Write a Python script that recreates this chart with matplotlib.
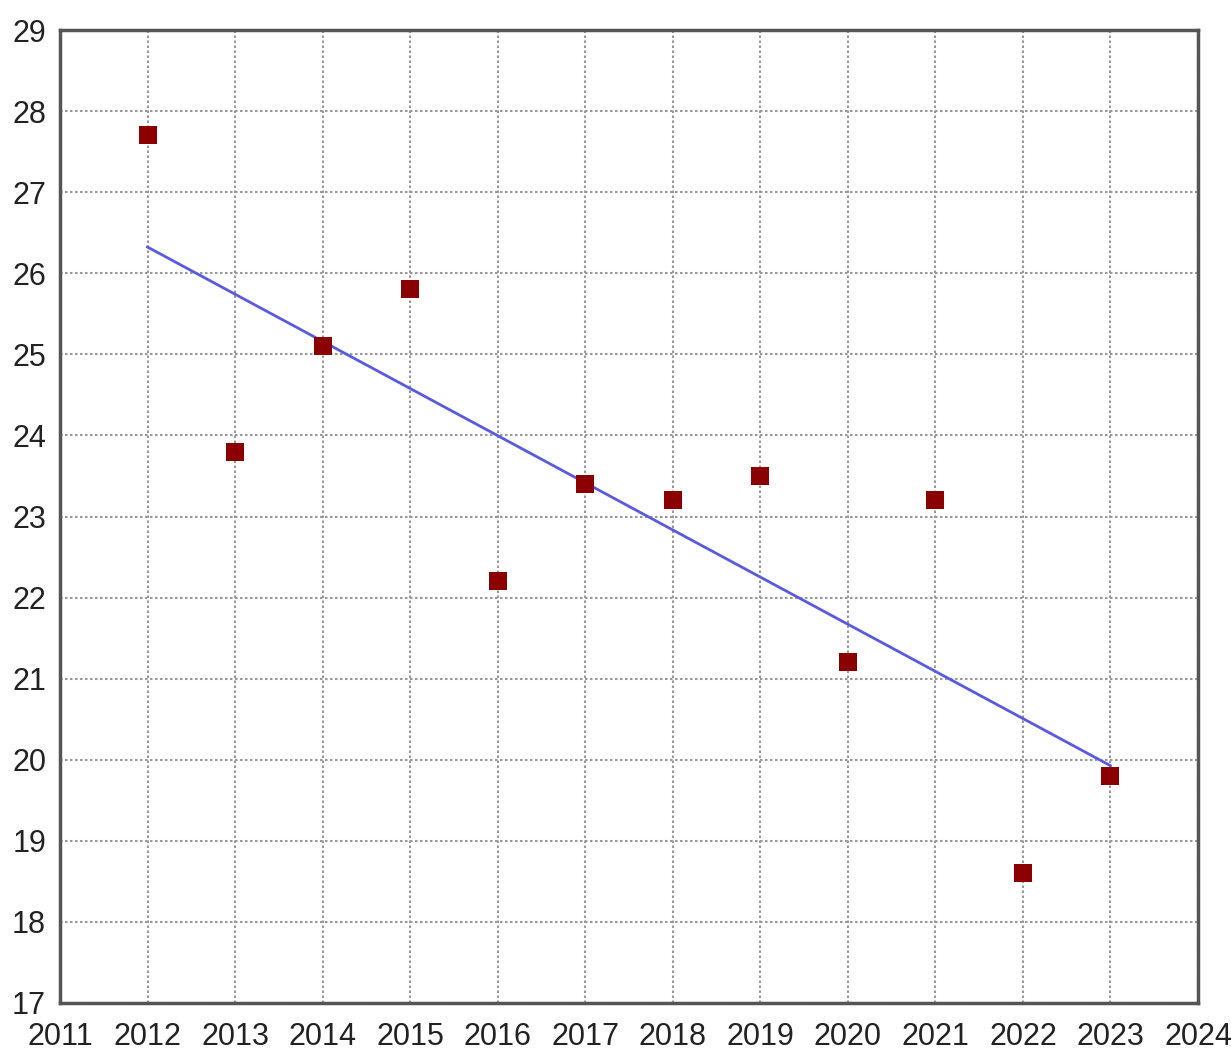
import numpy as np
import matplotlib
matplotlib.use("Agg")
import matplotlib.pyplot as plt

years = [2012, 2013, 2014, 2015, 2016, 2017, 2018, 2019, 2020, 2021, 2022, 2023]
values = [27.7, 23.8, 25.1, 25.8, 22.2, 23.4, 23.2, 23.5, 21.2, 23.2, 18.6, 19.8]
x_ticks = list(range(2011, 2025))
y_ticks = list(range(17, 30))

plt.rcParams['font.family'] = ['Liberation Sans', 'DejaVu Sans']

fig = plt.figure(figsize=(12.31, 10.58), dpi=100)
ax = fig.add_axes([60/1231, 55/1058, 1138/1231, 973/1058])

slope, intercept = np.polyfit(years, values, 1)
xs = np.array([years[0], years[-1]])
ax.plot(xs, slope * xs + intercept, color='#5a5ae0', linewidth=2, zorder=3)
ax.scatter(years, values, marker='s', s=165, color='#8b0000', zorder=4, linewidths=0)

ax.set_xlim(2011, 2024)
ax.set_ylim(17, 29)
ax.set_xticks(x_ticks)
ax.set_yticks(y_ticks)
ax.set_xticklabels([str(t) for t in x_ticks])
ax.set_yticklabels([str(t) for t in y_ticks])
ax.tick_params(length=0, labelsize=22, colors='#222222')
ax.tick_params(axis='x', pad=14)
ax.tick_params(axis='y', pad=10)
ax.grid(True, color='#999999', linestyle=(0, (1.2, 1.2)), linewidth=1.5)
for s in ax.spines.values():
    s.set_color('#555555')
    s.set_linewidth(2.5)

fig.savefig('out.png', dpi=100)
